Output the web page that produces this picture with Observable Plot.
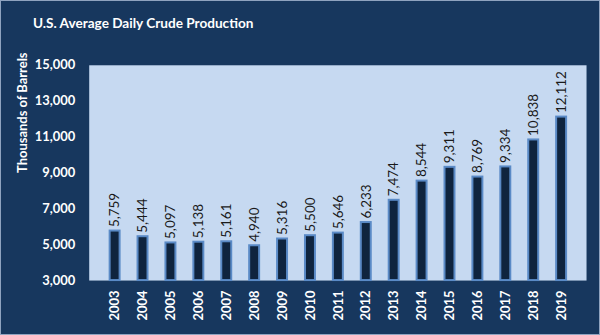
<!DOCTYPE html>
<html>
<head>
<meta charset="utf-8">
<script src="https://cdn.jsdelivr.net/npm/d3@7"></script>
<script src="https://cdn.jsdelivr.net/npm/@observablehq/plot@0.6"></script>
<style>
  html, body { margin: 0; padding: 0; background: #17375E; }
  #wrap { position: relative; width: 598px; height: 333px; background: #17375E; border: 1px solid #8FA3BF; overflow: hidden; }
  #title { position: absolute; left: 32px; top: 14px; color: #fff; font: bold 13.6px Lato, "Open Sans", sans-serif; }
  #wrap svg { position: absolute; left: -1px; top: -1px; }
</style>
</head>
<body>
<div id="wrap"><div id="title">U.S. Average Daily Crude Production</div></div>
<script>
const years = ["2003","2004","2005","2006","2007","2008","2009","2010","2011","2012","2013","2014","2015","2016","2017","2018","2019"];
const production = [5759,5444,5097,5138,5161,4940,5316,5500,5646,6233,7474,8544,9311,8769,9334,10838,12112];
const yTicks = [3000,5000,7000,9000,11000,13000,15000];

const data = years.map((y, i) => ({year: y, value: production[i]}));
const fmt = d3.format(",");

const chart = Plot.plot({
  width: 600,
  height: 335,
  marginLeft: 89,
  marginRight: 12,
  marginTop: 65,
  marginBottom: 54,
  style: {background: "transparent", fontFamily: "Lato, 'Open Sans', sans-serif"},
  x: {domain: years, padding: 0.66, label: null},
  y: {domain: [3000, 15000], label: null},
  marks: [
    Plot.frame({fill: "#C6D9F1", stroke: null}),
    Plot.barY(data, {x: "year", y1: 3000, y2: "value", fill: "#0F243E", stroke: "#5A8AC6", strokeWidth: 2}),
    Plot.text(data, {x: "year", y: "value", text: d => fmt(d.value), rotate: -90, textAnchor: "start", dy: -4, fill: "#1a1a1a", fontSize: 13.5}),
    Plot.axisY({ticks: yTicks, tickFormat: fmt, tickSize: 0, tickPadding: 14, fill: "#fff", fontSize: 13, fontWeight: "bold", label: null}),
    Plot.axisX({tickSize: 0, tickPadding: 10, tickRotate: -90, fill: "#fff", fontSize: 13, fontWeight: "bold", label: null}),
    Plot.text(["Thousands of Barrels"], {frameAnchor: "left", dx: -67, rotate: -90, fill: "#fff", fontSize: 13, fontWeight: "bold"})
  ]
});
document.getElementById("wrap").appendChild(chart);
</script>
</body>
</html>
